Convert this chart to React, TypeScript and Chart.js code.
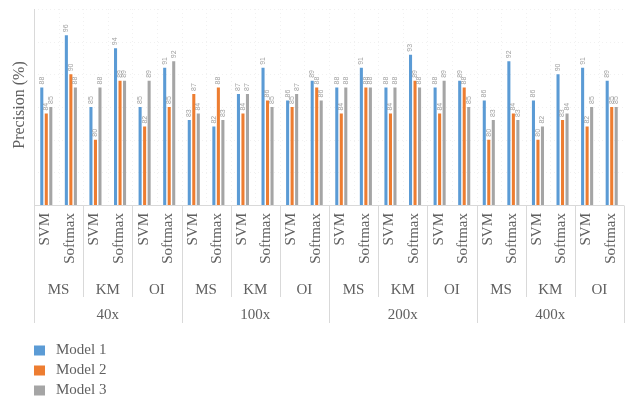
import React, { useEffect, useRef } from "react";
import { Chart, registerables } from "chart.js";

Chart.register(...registerables);

const magnifications = ["40x", "100x", "200x", "400x"];
const datasetsNames = ["MS", "KM", "OI"];
const classifiers = ["SVM", "Softmax"];
const categories: string[] = [];
magnifications.forEach((m) =>
  datasetsNames.forEach((d) => classifiers.forEach((c) => categories.push(`${m} ${d} ${c}`)))
);

const model1 = [88, 96, 85, 94, 85, 91, 83, 82, 87, 91, 86, 89, 88, 91, 88, 93, 88, 89, 86, 92, 86, 90, 91, 89];
const model2 = [84, 90, 80, 89, 82, 85, 87, 88, 84, 86, 85, 88, 84, 88, 84, 89, 84, 88, 80, 84, 80, 83, 82, 85];
const model3 = [85, 88, 88, 89, 89, 92, 84, 83, 87, 85, 87, 86, 88, 88, 88, 88, 89, 85, 83, 83, 82, 84, 85, 85];

const seriesNames = ["Model 1", "Model 2", "Model 3"];
const seriesColors = ["#5B9BD5", "#ED7D31", "#A5A5A5"];
const yTitle = "Precision (%)";

const SERIF = '"Liberation Serif", "DejaVu Serif", serif';
const TEXT = "#606060";
const LINE = "#d9d9d9";

const overlay = {
  id: "overlay",
  beforeDatasetsDraw(chart: any) {
    const { ctx, chartArea: a, scales } = chart;
    const y = scales.y;
    ctx.save();
    ctx.strokeStyle = "#f1f1f1";
    ctx.lineWidth = 1;
    ctx.setLineDash([1, 3]);
    for (let v = 75; v <= 100; v += 5) {
      const py = Math.round(y.getPixelForValue(v)) + 0.5;
      ctx.beginPath();
      ctx.moveTo(a.left, py);
      ctx.lineTo(a.right, py);
      ctx.stroke();
    }
    const n = categories.length;
    const w = (a.right - a.left) / n;
    for (let i = 1; i < n; i++) {
      const px = Math.round(a.left + i * w) + 0.5;
      ctx.beginPath();
      ctx.moveTo(px, a.top);
      ctx.lineTo(px, a.bottom);
      ctx.stroke();
    }
    ctx.setLineDash([]);
    ctx.strokeStyle = LINE;
    ctx.beginPath();
    ctx.moveTo(Math.round(a.left) + 0.5, a.top);
    ctx.lineTo(Math.round(a.left) + 0.5, a.bottom);
    ctx.stroke();
    ctx.beginPath();
    ctx.moveTo(a.left, Math.round(a.bottom) + 0.5);
    ctx.lineTo(a.right, Math.round(a.bottom) + 0.5);
    ctx.stroke();
    ctx.restore();
  },
  afterDatasetsDraw(chart: any) {
    const { ctx, chartArea: a, scales } = chart;
    const x = scales.x;
    const n = categories.length;
    const w = (a.right - a.left) / n;
    ctx.save();
    // data labels
    ctx.font = '7px "Liberation Sans", "DejaVu Sans", sans-serif';
    ctx.fillStyle = "#a0a0a0";
    chart.data.datasets.forEach((ds: any, di: number) => {
      const meta = chart.getDatasetMeta(di);
      meta.data.forEach((bar: any, i: number) => {
        ctx.save();
        ctx.translate(bar.x, bar.y - 3);
        ctx.rotate(-Math.PI / 2);
        ctx.textAlign = "left";
        ctx.textBaseline = "middle";
        ctx.fillText(String(ds.data[i]), 0, 0);
        ctx.restore();
      });
    });

    // separators
    const base = Math.round(a.bottom) + 0.5;
    ctx.strokeStyle = LINE;
    ctx.lineWidth = 1;
    for (let i = 0; i <= n; i += 2) {
      const px = Math.round(a.left + i * w) + 0.5;
      const long = i % 6 === 0;
      ctx.beginPath();
      ctx.moveTo(px, base);
      ctx.lineTo(px, long ? 323 : 297);
      ctx.stroke();
    }

    // level 1 labels
    ctx.fillStyle = TEXT;
    ctx.font = `15px ${SERIF}`;
    for (let i = 0; i < n; i++) {
      const cx = x.getPixelForValue(i);
      ctx.save();
      ctx.translate(cx - 1, 213);
      ctx.rotate(-Math.PI / 2);
      ctx.textAlign = "right";
      ctx.textBaseline = "middle";
      ctx.fillText(classifiers[i % 2], 0, 0);
      ctx.restore();
    }
    // level 2
    ctx.textAlign = "center";
    ctx.textBaseline = "middle";
    for (let g = 0; g < n / 2; g++) {
      const cx = a.left + (g * 2 + 1) * w;
      ctx.fillText(datasetsNames[g % 3], cx, 290);
    }
    // level 3
    for (let g = 0; g < n / 6; g++) {
      const cx = a.left + (g * 6 + 3) * w;
      ctx.fillText(magnifications[g], cx, 315);
    }

    // y title
    ctx.save();
    ctx.font = `16px ${SERIF}`;
    ctx.translate(20, 105);
    ctx.rotate(-Math.PI / 2);
    ctx.textAlign = "center";
    ctx.textBaseline = "middle";
    ctx.fillText(yTitle, 0, 0);
    ctx.restore();

    // legend
    ctx.font = `15px ${SERIF}`;
    ctx.textAlign = "left";
    ctx.textBaseline = "middle";
    seriesNames.forEach((name, i) => {
      const cy = 350.5 + i * 20;
      ctx.fillStyle = seriesColors[i];
      ctx.fillRect(34, cy - 5, 11, 10);
      ctx.fillStyle = TEXT;
      ctx.fillText(name, 56, cy);
    });
    ctx.restore();
  },
};

export default function App() {
  const ref = useRef<HTMLCanvasElement | null>(null);
  useEffect(() => {
    document.body.style.margin = "0";
    const canvas = ref.current;
    if (!canvas) return;
    const chart = new Chart(canvas, {
      type: "bar",
      data: {
        labels: categories,
        datasets: [model1, model2, model3].map((d, i) => ({
          label: seriesNames[i],
          data: d,
          backgroundColor: seriesColors[i],
          borderWidth: 0,
          barPercentage: 0.68,
          categoryPercentage: 0.55,
        })),
      },
      options: {
        responsive: false,
        animation: false,
        devicePixelRatio: 1,
        layout: { padding: { left: 34, right: 11, top: 9, bottom: 202 } },
        plugins: { legend: { display: false }, tooltip: { enabled: false } },
        scales: {
          x: { display: false },
          y: { display: false, min: 70, max: 100 },
        },
      },
      plugins: [overlay],
    });
    return () => chart.destroy();
  }, []);
  return (
    <div style={{ width: 635, height: 407, background: "#fff" }}>
      <canvas ref={ref} width={635} height={407} />
    </div>
  );
}
